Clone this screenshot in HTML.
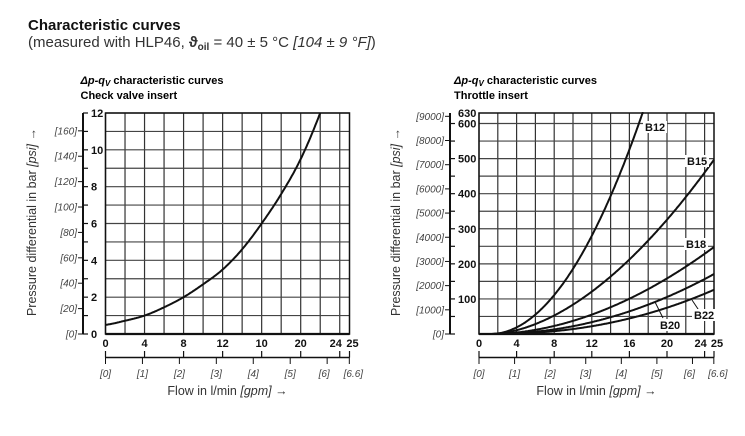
<!DOCTYPE html>
<html><head><meta charset="utf-8"><style>
body{margin:0;background:#fff;width:745px;height:436px;overflow:hidden}
svg{display:block}
text{font-family:"Liberation Sans",sans-serif}
.b{font-weight:bold;font-size:11px;fill:#111}
.p{font-style:italic;font-size:10px;fill:#444}
</style></head><body>
<svg id="s" width="745" height="436" xmlns="http://www.w3.org/2000/svg">
<text x="28" y="30" style="font-weight:bold;font-size:15px" fill="#111">Characteristic curves</text>
<text x="28" y="47" style="font-size:15px" fill="#333">(measured with HLP46, <tspan font-weight="bold">ϑ</tspan><tspan font-weight="bold" font-size="10" dy="3">oil</tspan><tspan dy="-3"> = 40 ± 5 °C </tspan><tspan font-style="italic">[104 ± 9 °F]</tspan>)</text>
</svg>
<script>
const s=document.getElementById('s');let h='';
function L(x1,y1,x2,y2,w,c){h+=`<line x1="${x1}" y1="${y1}" x2="${x2}" y2="${y2}" stroke="${c||'#222'}" stroke-width="${w||1}"/>`}
function T(x,y,t,cls,a){h+=`<text x="${x}" y="${y}" class="${cls}" text-anchor="${a||'middle'}">${t}</text>`}
function chart(o){
 const X0=o.x0,X1=o.x1,Y0=o.y0,Y1=o.y1;const sx=q=>X0+(X1-X0)*q/25,sy=v=>Y1-(Y1-Y0)*v/o.ymax;
 h+=`<text x="${X0-25}" y="84" style="font-weight:bold;font-style:italic;font-size:11px">Δp-q<tspan font-size="8" dy="2">V</tspan><tspan dy="-2" font-style="normal"> characteristic curves</tspan></text>`;
 h+=`<text x="${X0-25}" y="99" style="font-weight:bold;font-size:11px">${o.sub}</text>`;
 for(let q=0;q<=24;q+=2)L(sx(q),Y0,sx(q),Y1,1.2,'#333');
 for(let v=0;v<=o.ymax;v+=o.gs)L(X0,sy(v),X1,sy(v),1.2,'#444');
 h+=`<rect x="${X0}" y="${Y0}" width="${X1-X0}" height="${Y1-Y0}" fill="none" stroke="#111" stroke-width="1.5"/>`;
 L(X0,Y1,X1,Y1,2.2,'#111');
 const ax=o.ax;L(ax,Y0,ax,Y1,2,'#111');
 for(let v=0;v<=o.ymax;v+=o.ts)L(ax,sy(v),ax+5,sy(v),1.2,'#111');
 o.yl.forEach(v=>T(ax+8,sy(v)+4,v,'b','start'));
 for(let p=0;p<=o.pmax;p+=o.pst){const v=p/14.5038;L(ax-5,sy(v),ax,sy(v),1,'#111');T(ax-6,sy(v)+3.5,'['+p+']','p','end');}
 h+=`<text transform="translate(${o.tx},222) rotate(-90)" text-anchor="middle" style="font-size:12.5px" fill="#333">Pressure differential in bar <tspan font-style="italic">[psi]</tspan> →</text>`;
 [0,4,8,12,16,20,24,25].forEach((q,i)=>T(sx(q)+(q==24?-4:q==25?3:0),347,q==16?o.l16:q,'b'));
 L(X0,357.5,X1,357.5,1.5,'#111');
 [0,4,8,12,16,20,24,25].forEach(q=>L(sx(q),351,sx(q),357.5,1.2,'#111'));
 [0,1,2,3,4,5,6,6.6].forEach(g=>{const x=sx(g*3.785);L(x,357.5,x,364,1,'#111');T(x+(g==6?-3:g==6.6?4:0),377,'['+g+']','p')});
 h+=`<text x="${(X0+X1)/2}" y="395" text-anchor="middle" style="font-size:12.5px" fill="#333">Flow in l/min <tspan font-style="italic">[gpm]</tspan> →</text>`;
 o.curves.forEach(f=>{let d='';for(let q=f.a;q<=f.b+1e-9;q+=0.1){const v=f.f(q);d+=(d?'L':'M')+sx(q).toFixed(1)+','+sy(Math.min(v,o.ymax)).toFixed(1)}h+=`<path d="${d}" fill="none" stroke="#111" stroke-width="2"/>`});
}
const P=[[0,0.5],[2,0.72],[4,1],[6,1.45],[8,2],[10,2.7],[12,3.5],[14,4.6],[16,6],[18,7.6],[20,9.5],[22,12],[24,15]];
function spl(q){let i=Math.min(Math.floor(q/2),10);const p0=P[Math.max(i-1,0)],p1=P[i],p2=P[i+1],p3=P[Math.min(i+2,12)];const t=(q-p1[0])/2;
 const m1=(p2[1]-p0[1])/2,m2=(p3[1]-p1[1])/2;const t2=t*t,t3=t2*t;
 return (2*t3-3*t2+1)*p1[1]+(t3-2*t2+t)*m1+(-2*t3+3*t2)*p2[1]+(t3-t2)*m2;}
chart({x0:105.5,x1:349.5,y0:113,y1:334,ymax:12,gs:1,ts:1,ax:83,yl:[0,2,4,6,8,10,12],pmax:160,pst:20,tx:36,l16:'10',sub:'Check valve insert',
 curves:[{a:0,b:22,f:spl}]});
chart({x0:479,x1:714,y0:113,y1:334,ymax:630,gs:50,ts:50,ax:450,yl:[100,200,300,400,500,600,630],pmax:9000,pst:1000,tx:400,l16:'16',sub:'Throttle insert',
 curves:[
 {a:1.2,b:17.5,f:q=>630*Math.pow((q-1.2)/16.2,2)},
 {a:1.2,b:25,f:q=>497*Math.pow((q-1.2)/23.8,1.79)},
 {a:1.2,b:25,f:q=>248*Math.pow((q-1.2)/23.8,1.9)},
 {a:1.2,b:25,f:q=>171*Math.pow((q-1.2)/23.8,2.05)},
 {a:1.2,b:25,f:q=>126*Math.pow((q-1.2)/23.8,2.2)}]});
function lab(x,y,t){h+=`<rect x="${x-2}" y="${y-10}" width="${t.length*7+3}" height="12" fill="#fff"/>`;T(x,y,t,'b','start')}
lab(645,131,'B12');lab(687,165,'B15');lab(686,248,'B18');
L(655,302,663,318,1,'#111');lab(660,329,'B20');
L(692,300,700,312,1,'#111');lab(694,319,'B22');
s.insertAdjacentHTML('beforeend',h);
</script>
</body></html>
